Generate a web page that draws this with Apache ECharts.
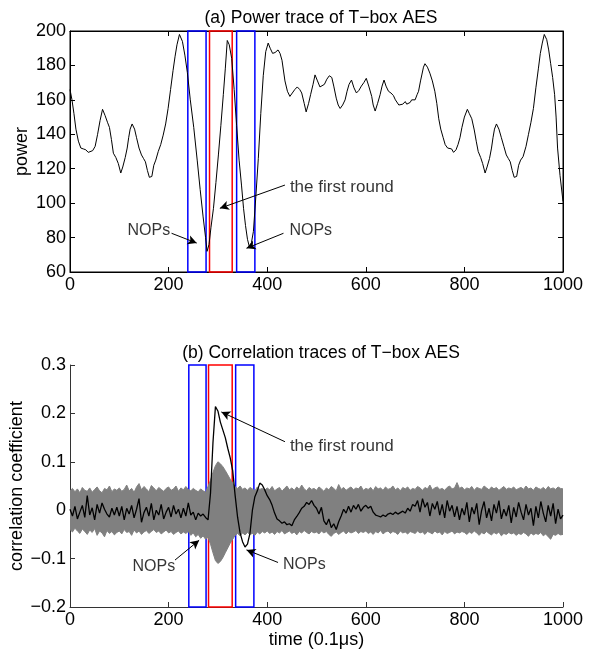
<!DOCTYPE html>
<html><head><meta charset="utf-8">
<script src="https://cdn.jsdelivr.net/npm/echarts@6/dist/echarts.min.js"></script>
<style>html,body{margin:0;padding:0;background:#fff}#c{width:596px;height:652px}</style>
</head><body><div id="c"></div>
<script>
// ---- (a) power trace ----
const powerT = [0,4,8,12,17,22,27,32,37,41,46,51,56,61,66,71,76,80,84,88,93,98,103,107,112,116,119,122,126,131,135,140,145,149,153,157,161,166,170,174,179,184,189,194,199,204,209,213,217,222,228,233,238,244,251,258,264,270,275,278,282,286,291,296,301,306,311,315,319,323,328,333,338,343,348,352,356,360,364,368,372,377,382,387,392,397,402,406,411,416,422,426,430,436,441,446,451,456,461,466,470,475,479,484,488,493,497,502,507,511,516,521,526,531,535,540,544,548,553,558,562,566,571,576,581,586,591,596,601,606,612,615,619,624,629,633,637,641,646,651,656,660,663,667,671,675,680,683,686,690,693,697,700,704,707,711,714,717,720,725,730,735,740,744,748,752,757,761,766,770,774,778,783,787,791,795,800,806,810,815,820,824,828,833,837,842,846,851,855,858,861,865,870,875,880,885,889,893,897,901,906,910,914,919,925,930,935,940,945,950,954,958,962,967,971,975,979,983,986,989,994,1000];
const powerV = [166,160,152,143,136,132,131.5,131,129.5,129,130.5,133,140,148,154.5,151,147,144,137,129,126.5,123,117.5,121,126.5,132,138,143,146,143,138,132,128,126,124,119,115,115.5,122,125,130,134,139.5,146,155,166,177,185,192,198,194,186,176,160,144,125,108,92,80,72,76,86,97,112,128,145,163,178,194.5,192,184,166,145,125,110,97,87,79,74.5,77,83.5,104,126,152,174,188,193,190,187,187.5,189,187,183,171,165,162,164,166,167.5,166,164,158,153,158,163,169,174.5,171,167.5,166.5,169,172,174,173,168,161,157,155,157,160,165,169,171.5,167,164,165.5,168,170,172.5,168,162,157,153.5,158,163,168,171.5,168,165,164,162.5,160,159,157,156,157.5,159,157.5,157,158.5,160,160.5,160,163,165,171,175,179,181,179,175.5,171,165,158,149,143,138,134,132,132,131.5,129.5,131,134,138,144,150,154.5,152,149,142.5,136,130,126.5,123,117.5,121,126,132,138,143,146,143,138,133,128,126,124,119,115,115.5,122,125,127,133,140,147,155,167,178,187,193,198,195,189,181,173,163,150,132,116,101];

// ---- (b) correlation traces, sampled every 5 time units from 0 to 1000 ----
const corrStep = 5;
const bandUpper = [
0.040,0.045,0.038,0.044,0.036,0.047,0.041,0.039,0.046,0.037,0.043,0.048,0.040,0.036,0.045,0.042,0.050,0.038,0.044,0.041,
0.046,0.039,0.043,0.052,0.040,0.045,0.037,0.048,0.055,0.042,0.049,0.044,0.038,0.051,0.046,0.040,0.047,0.043,0.039,0.045,
0.048,0.041,0.044,0.050,0.039,0.046,0.042,0.049,0.043,0.040,0.045,0.041,0.038,0.044,0.040,0.037,0.049,0.062,0.078,0.092,
0.100,0.096,0.090,0.082,0.073,0.064,0.056,0.048,0.045,0.050,0.043,0.046,0.041,0.047,0.044,0.040,0.048,0.043,0.045,0.041,
0.046,0.042,0.049,0.040,0.044,0.047,0.039,0.045,0.050,0.042,0.046,0.041,0.048,0.043,0.052,0.044,0.040,0.047,0.043,0.045,
0.041,0.048,0.044,0.039,0.046,0.042,0.049,0.045,0.040,0.053,0.043,0.047,0.041,0.045,0.048,0.042,0.046,0.044,0.050,0.041,
0.045,0.043,0.047,0.040,0.049,0.044,0.046,0.041,0.048,0.043,0.045,0.050,0.042,0.046,0.040,0.047,0.044,0.048,0.041,0.045,
0.043,0.049,0.046,0.041,0.047,0.044,0.052,0.042,0.046,0.048,0.043,0.045,0.041,0.047,0.050,0.044,0.046,0.057,0.045,0.048,
0.042,0.046,0.044,0.049,0.041,0.047,0.045,0.043,0.050,0.046,0.042,0.048,0.044,0.047,0.041,0.045,0.049,0.043,0.046,0.044,
0.048,0.042,0.045,0.047,0.043,0.050,0.044,0.046,0.041,0.048,0.045,0.043,0.047,0.042,0.049,0.044,0.046,0.043,0.048,0.045,
0.044];
const bandLower = [
-0.040,-0.045,-0.037,-0.043,-0.048,-0.039,-0.044,-0.050,-0.041,-0.046,-0.038,-0.052,-0.043,-0.047,-0.055,-0.042,-0.048,-0.044,-0.051,-0.046,
-0.043,-0.049,-0.040,-0.046,-0.044,-0.052,-0.041,-0.047,-0.043,-0.050,-0.045,-0.042,-0.048,-0.044,-0.040,-0.046,-0.043,-0.049,-0.045,-0.041,
-0.047,-0.044,-0.050,-0.046,-0.043,-0.049,-0.045,-0.048,-0.044,-0.052,-0.047,-0.055,-0.050,-0.058,-0.053,-0.060,-0.056,-0.070,-0.088,-0.104,
-0.110,-0.106,-0.098,-0.088,-0.078,-0.068,-0.060,-0.052,-0.048,-0.053,-0.047,-0.051,-0.046,-0.050,-0.048,-0.052,-0.045,-0.049,-0.044,-0.047,
-0.043,-0.048,-0.045,-0.050,-0.044,-0.047,-0.042,-0.049,-0.046,-0.043,-0.048,-0.045,-0.051,-0.044,-0.047,-0.042,-0.046,-0.049,-0.044,-0.047,
-0.045,-0.049,-0.043,-0.047,-0.044,-0.050,-0.054,-0.048,-0.045,-0.050,-0.046,-0.043,-0.049,-0.044,-0.047,-0.045,-0.042,-0.048,-0.044,-0.046,
-0.043,-0.048,-0.045,-0.050,-0.044,-0.047,-0.042,-0.049,-0.045,-0.043,-0.048,-0.044,-0.046,-0.050,-0.043,-0.047,-0.045,-0.049,-0.044,-0.046,
-0.048,-0.043,-0.047,-0.045,-0.050,-0.044,-0.046,-0.049,-0.043,-0.047,-0.045,-0.051,-0.044,-0.048,-0.046,-0.043,-0.049,-0.045,-0.047,-0.044,
-0.046,-0.050,-0.045,-0.048,-0.043,-0.047,-0.052,-0.046,-0.049,-0.044,-0.048,-0.051,-0.046,-0.049,-0.045,-0.053,-0.048,-0.050,-0.046,-0.049,
-0.047,-0.052,-0.048,-0.050,-0.046,-0.049,-0.054,-0.047,-0.051,-0.048,-0.050,-0.046,-0.053,-0.049,-0.055,-0.060,-0.050,-0.052,-0.048,-0.051,
-0.050];
const correctKey = [
0.002,-0.012,0.008,-0.018,-0.004,0.010,-0.015,0.030,-0.010,0.005,-0.020,0.012,-0.006,0.015,0.002,-0.008,-0.014,0.004,-0.010,0.006,
-0.012,0.008,-0.020,0.004,-0.008,0.010,-0.016,0.002,0.024,-0.025,-0.005,0.006,-0.012,0.014,-0.020,0.000,-0.010,0.012,-0.018,-0.004,
0.006,-0.014,0.010,-0.008,0.002,-0.016,0.004,-0.012,0.015,-0.010,-0.004,-0.020,-0.006,-0.012,-0.008,-0.015,-0.020,0.035,0.140,0.214,
0.205,0.182,0.166,0.150,0.128,0.108,0.082,0.030,-0.015,-0.047,-0.065,-0.076,-0.070,-0.048,0.000,0.028,0.040,0.056,0.052,0.042,
0.030,0.022,0.010,-0.006,-0.018,-0.022,-0.027,-0.024,-0.030,-0.028,-0.032,-0.020,-0.013,-0.005,0.004,0.008,0.016,0.012,0.020,0.010,
0.004,-0.008,0.006,-0.022,-0.030,-0.018,-0.036,-0.028,-0.040,-0.024,-0.012,0.002,-0.006,0.008,-0.004,0.010,0.002,0.012,-0.002,0.006,
0.010,0.004,0.008,-0.004,-0.010,-0.012,-0.014,-0.010,-0.013,-0.008,-0.006,-0.009,-0.004,-0.008,-0.005,-0.002,-0.006,0.004,-0.002,0.012,
0.008,0.020,-0.004,0.024,0.006,0.016,-0.012,0.014,0.002,0.018,-0.010,0.012,-0.016,0.020,-0.002,0.010,-0.014,0.008,-0.020,0.004,
-0.010,0.016,-0.024,0.006,-0.008,0.014,-0.030,0.000,0.018,-0.016,0.004,-0.022,0.012,-0.006,0.020,-0.018,0.002,-0.012,0.010,-0.026,
0.006,-0.014,0.016,-0.004,-0.020,0.012,-0.010,0.004,-0.032,0.008,-0.016,0.018,-0.006,-0.024,0.010,-0.012,0.014,-0.028,0.002,-0.018,
-0.010];

// highlighted windows [start, end, colour]
const boxesA = [[239,276,'#0000ff'],[283,329,'#ff0000'],[338,375,'#0000ff']];
const boxesB = [[241,276,'#0000ff'],[281,329,'#ff0000'],[336,373,'#0000ff']];

// annotations: text, text anchor [x,y], align, arrow from [x,y] to [x,y]
const notesA = [
  {text:'NOPs', size:16, at:[160,84], align:'center', from:[206,82.5], to:[257,76.8]},
  {text:'the first round', size:17, at:[446,109], align:'left', from:[436,110.5], to:[304,97]},
  {text:'NOPs', size:16, at:[445,84], align:'left', from:[433,82.5], to:[358,73.8]}
];
const notesB = [
  {text:'NOPs', size:16, at:[170,-0.117], align:'center', from:[213,-0.103], to:[262,-0.062]},
  {text:'the first round', size:17, at:[446,0.133], align:'left', from:[436,0.1415], to:[307,0.203]},
  {text:'NOPs', size:16, at:[432,-0.113], align:'left', from:[422,-0.108], to:[358,-0.082]}
];

const FONT = 'Liberation Sans, Arial, Helvetica, sans-serif';
const corrT = bandUpper.map((_, i) => i * corrStep);
const pair = (xs, ys) => xs.map((x, i) => [x, ys[i]]);

function markAreaOf(boxes){
  return {silent:true, data: boxes.map(b => [
    {xAxis:b[0], itemStyle:{color:'rgba(0,0,0,0)', borderColor:b[2], borderWidth:1.5}},
    {xAxis:b[1]}
  ])};
}
function markLineOf(notes){
  return {silent:true, symbol:['none','arrow'], symbolSize:[7,9],
    lineStyle:{color:'#000', width:1, type:'solid'}, label:{show:false},
    data: notes.map(n => [{coord:n.from}, {coord:n.to}])};
}
function textSeries(notes, xi, yi){
  return {type:'scatter', xAxisIndex:xi, yAxisIndex:yi, symbolSize:0, silent:true, z:10,
    data: notes.map(n => ({value:n.at, label:{show:true, formatter:n.text, position:n.align==='left'?'right':'inside',
      distance:0, align:n.align, verticalAlign:'middle', color:'#000', fontSize:n.size, fontFamily:FONT}}))};
}

const tickStyle = (c) => ({show:true, inside:true, length:5, lineStyle:{color:c, width:1}});
const lineStyleAx = (c) => ({show:true, onZero:false, lineStyle:{color:c, width:1}});
const lab = {color:'#000', fontSize:18, fontFamily:FONT};
const plain = v => String(Math.round(v));
const minus = v => { const r = Math.round(v*10)/10; return r < 0 ? '\u2212' + Math.abs(r) : String(r); };

// band of all key hypotheses as one polygon: upper edge left->right, lower edge right->left
function renderBand(params, api){
  const pts = [];
  for (let i = 0; i < corrT.length; i++) pts.push(api.coord([corrT[i], bandUpper[i]]));
  for (let i = corrT.length - 1; i >= 0; i--) pts.push(api.coord([corrT[i], bandLower[i]]));
  return {type:'polygon', shape:{points:pts}, style:{fill:'#808080', stroke:'#808080', lineWidth:1}};
}

const chart = echarts.init(document.getElementById('c'), null, {renderer:'canvas'});
chart.setOption({
  animation:false,
  backgroundColor:'#fff',
  title:[
    {text:'(a) Power trace of T\u2212box AES', left:316, top:4, textAlign:'center',
     textStyle:{fontSize:17.5, fontWeight:'normal', color:'#000', fontFamily:FONT}},
    {text:'(b) Correlation traces of T\u2212box AES', left:316, top:339, textAlign:'center',
     textStyle:{fontSize:17.5, fontWeight:'normal', color:'#000', fontFamily:FONT}}
  ],
  grid:[
    {left:70, top:31, width:493, height:241, show:true, borderColor:'#000', borderWidth:1,
     backgroundColor:'rgba(0,0,0,0)', containLabel:false, outerBoundsMode:'none'},
    {left:70, top:365, width:493, height:242, containLabel:false, outerBoundsMode:'none'}
  ],
  xAxis:[
    {type:'value', gridIndex:0, min:0, max:1000, interval:200, position:'bottom',
     axisLine:lineStyleAx('#000'), axisTick:tickStyle('#000'), splitLine:{show:false},
     axisLabel:Object.assign({margin:4, formatter:plain}, lab)},
    {type:'value', gridIndex:0, min:0, max:1000, interval:200, position:'top',
     axisLine:lineStyleAx('#000'), axisTick:tickStyle('#000'), splitLine:{show:false}, axisLabel:{show:false}},
    {type:'value', gridIndex:1, min:0, max:1000, interval:200, position:'bottom',
     axisLine:lineStyleAx('#333'), axisTick:tickStyle('#333'), splitLine:{show:false},
     axisLabel:Object.assign({margin:4, formatter:plain}, lab),
     name:'time (0.1\u03bcs)', nameLocation:'middle', nameGap:24, nameMoveOverlap:false,
     nameTextStyle:{color:'#000', fontSize:18, fontFamily:FONT}}
  ],
  yAxis:[
    {type:'value', gridIndex:0, min:60, max:200, interval:20, position:'left',
     axisLine:lineStyleAx('#000'), axisTick:tickStyle('#000'), splitLine:{show:false},
     axisLabel:Object.assign({margin:4, formatter:plain}, lab),
     name:'power', nameLocation:'middle', nameGap:39, nameRotate:90, nameMoveOverlap:false,
     nameTextStyle:{color:'#000', fontSize:18, fontFamily:FONT}},
    {type:'value', gridIndex:0, min:60, max:200, interval:20, position:'right',
     axisLine:lineStyleAx('#000'), axisTick:tickStyle('#000'), splitLine:{show:false}, axisLabel:{show:false}},
    {type:'value', gridIndex:1, min:-0.2, max:0.3, interval:0.1, position:'left',
     axisLine:lineStyleAx('#333'), axisTick:tickStyle('#333'), splitLine:{show:false},
     axisLabel:Object.assign({margin:4, formatter:minus}, lab),
     name:'correlation coefficient', nameLocation:'middle', nameGap:44, nameRotate:90, nameMoveOverlap:false,
     nameTextStyle:{color:'#000', fontSize:18, fontFamily:FONT}}
  ],
  series:[
    {type:'line', xAxisIndex:0, yAxisIndex:0, data:pair(powerT, powerV), showSymbol:false, symbol:'none',
     lineStyle:{color:'#000', width:1}, silent:true, z:3,
     markArea:markAreaOf(boxesA), markLine:markLineOf(notesA)},
    textSeries(notesA, 0, 0),
    {type:'custom', xAxisIndex:2, yAxisIndex:2, coordinateSystem:'cartesian2d', data:[[0, 0]],
     renderItem:renderBand, silent:true, z:2, clip:true},
    {type:'line', xAxisIndex:2, yAxisIndex:2, data:pair(corrT, correctKey), showSymbol:false, symbol:'none',
     lineStyle:{color:'#000', width:1.3}, silent:true, z:3,
     markArea:markAreaOf(boxesB), markLine:markLineOf(notesB)},
    textSeries(notesB, 2, 2)
  ]
});
</script>
</body></html>
